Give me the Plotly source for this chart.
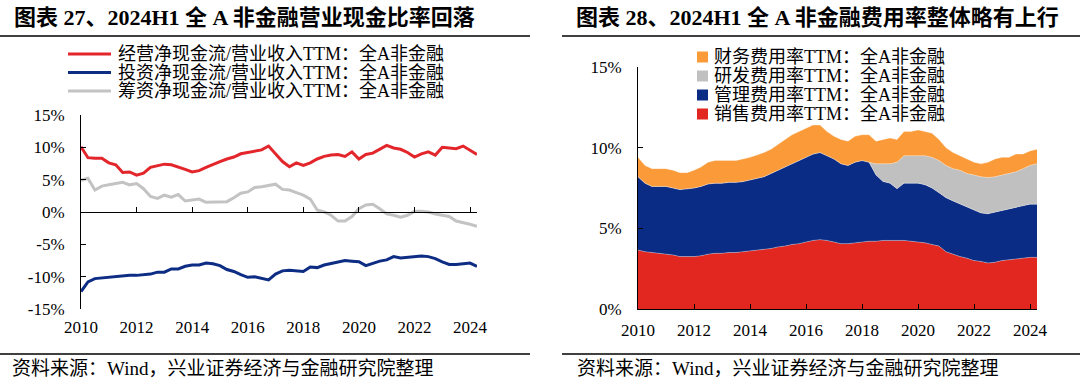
import plotly.graph_objects as go

W, H = 1080, 387

def px(x):
    return x / W

def py(y):
    return 1 - y / H

# ---------------- data ----------------
quarters = [f"{y}Q{q}" for y in range(2010, 2025) for q in range(1, 5)][:58]
tick_quarters = ["2010Q1", "2012Q1", "2014Q1", "2016Q1", "2018Q1", "2020Q1", "2022Q1", "2024Q1"]
tick_years = ["2010", "2012", "2014", "2016", "2018", "2020", "2022", "2024"]

# left chart (%): cash-flow / revenue TTM
op_cf = [10.1, 8.4, 8.3, 8.3,
         7.6, 7.3, 6.1, 6.2,
         5.7, 6.0, 6.9, 7.2,
         7.4, 7.3, 7.0, 6.6,
         6.2, 6.4, 6.9, 7.4,
         7.8, 8.2, 8.5, 9.0,
         9.2, 9.3, 9.6, 10.2,
         9.0, 7.8, 7.0, 7.6,
         7.2, 7.6, 8.2, 8.6,
         8.8, 8.9, 8.6, 9.3,
         8.2, 8.9, 9.1, 9.7,
         10.3, 9.9, 9.7, 9.2,
         8.5, 9.0, 9.3, 8.8,
         10.0, 9.9, 9.8, 10.2,
         9.6, 8.9]
inv_cf = [-12.3, -10.8, -10.3, -10.2,
          -10.0, -9.9, -9.9, -9.8,
          -9.8, -9.7, -9.6, -9.3,
          -9.3, -8.8, -8.8, -8.4,
          -8.2, -8.2, -7.9, -8.0,
          -8.3, -8.9, -9.2, -9.7,
          -10.1, -10.0, -10.2, -10.5,
          -9.6, -9.1, -9.0, -9.1,
          -9.2, -8.5, -8.6, -8.2,
          -8.0, -7.8, -7.5, -7.6,
          -7.7, -8.3, -7.9, -7.6,
          -7.4, -6.9, -7.1, -7.0,
          -6.9, -6.8, -6.9, -7.2,
          -7.7, -8.1, -8.1, -8.0,
          -7.9, -8.4]
fin_cf = [4.9, 5.2, 3.4, 4.0,
          4.2, 4.4, 4.6, 4.2,
          4.4, 3.6, 2.4, 2.1,
          2.6, 2.3, 2.7, 1.7,
          1.9, 2.0, 1.5, 1.5,
          1.5, 1.6, 2.2, 2.9,
          3.1, 3.8, 3.9, 4.1,
          4.3, 3.5, 3.4, 3.0,
          2.6, 2.0, 0.3, 0.0,
          -0.5, -1.4, -1.4, -0.7,
          0.5, 1.1, 1.2, 0.5,
          -0.3, -0.5, -0.8, -0.5,
          0.1, 0.1, 0.0, -0.3,
          -0.5, -0.7, -1.4, -1.6,
          -1.9, -2.2]
left_names = ["经营净现金流/营业收入TTM：全A非金融",
              "投资净现金流/营业收入TTM：全A非金融",
              "筹资净现金流/营业收入TTM：全A非金融"]
left_colors = ["#E3262B", "#0D2C84", "#C3C3C3"]
left_ticks = [-15, -10, -5, 0, 5, 10, 15]
left_ticktext = ["-15%", "-10%", "-5%", "0%", "5%", "10%", "15%"]

# right chart (%): expense ratios TTM (stacked, bottom to top)
sales = [3.65, 3.55, 3.5, 3.45,
         3.4, 3.35, 3.25, 3.25,
         3.25, 3.3, 3.4, 3.45,
         3.45, 3.5, 3.5, 3.55,
         3.6, 3.65, 3.7, 3.75,
         3.85, 3.9, 4.0, 4.05,
         4.15, 4.25, 4.3, 4.25,
         4.15, 4.05, 4.05, 4.1,
         4.15, 4.2, 4.2, 4.25,
         4.25, 4.25, 4.25, 4.2,
         4.15, 4.1, 4.0, 3.9,
         3.55, 3.4, 3.25, 3.15,
         3.0, 2.95, 2.85, 2.9,
         3.0, 3.05, 3.1, 3.15,
         3.2, 3.2]
admin = [4.55, 4.25, 4.1, 4.15,
         4.2, 4.15, 4.15, 4.2,
         4.25, 4.3, 4.35, 4.35,
         4.35, 4.35, 4.35, 4.35,
         4.4, 4.45, 4.5, 4.65,
         4.75, 4.9, 5.0, 5.15,
         5.25, 5.35, 5.4, 5.25,
         5.15, 4.95, 4.85, 5.0,
         5.05, 4.9, 4.1, 3.65,
         3.55, 3.2, 3.55, 3.6,
         3.65, 3.6, 3.5, 3.3,
         3.35, 3.3, 3.25, 3.15,
         3.1, 3.0, 3.05, 3.1,
         3.1, 3.15, 3.2, 3.25,
         3.3, 3.3]
rnd = [None, None, None, None,
       None, None, None, None,
       None, None, None, None,
       None, None, None, None,
       None, None, None, None,
       None, None, None, None,
       None, None, None, None,
       None, None, None, None,
       None, None, 0.7, 1.1,
       1.2, 1.65, 1.7, 1.7,
       1.7, 1.8, 1.9, 2.0,
       2.0, 2.0, 2.1, 2.1,
       2.2, 2.25, 2.25, 2.2,
       2.2, 2.2, 2.2, 2.3,
       2.4, 2.5]
finance = [1.2, 1.1, 1.1, 1.1,
           1.1, 1.1, 1.05, 1.0,
           1.1, 1.2, 1.35, 1.4,
           1.4, 1.35, 1.35, 1.4,
           1.4, 1.45, 1.5, 1.5,
           1.6, 1.7, 1.8, 1.8,
           1.8, 1.8, 1.7, 1.5,
           1.4, 1.5, 1.5, 1.6,
           1.6, 1.7, 1.4, 1.5,
           1.6, 1.4, 1.5, 1.5,
           1.6, 1.5, 1.5, 1.3,
           1.1, 1.0, 0.9, 0.9,
           0.8, 0.8, 0.95, 1.1,
           1.1, 1.0, 1.1, 0.9,
           0.9, 0.9]
right_names = ["销售费用率TTM：全A非金融", "管理费用率TTM：全A非金融",
               "研发费用率TTM：全A非金融", "财务费用率TTM：全A非金融"]
right_colors = ["#E1271F", "#0B2C85", "#C0C0C0", "#FA9A38"]
right_ticks = [0, 5, 10, 15]
right_ticktext = ["0%", "5%", "10%", "15%"]

titles = ["图表 27、2024H1 全 A 非金融营业现金比率回落",
          "图表 28、2024H1 全 A 非金融费用率整体略有上行"]
source = "资料来源：Wind，兴业证券经济与金融研究院整理"

FONT = "Liberation Serif, Noto Sans CJK SC, serif"

# ---------------- figure ----------------
fig = go.Figure()

for vals, name, col in zip([op_cf, inv_cf, fin_cf], left_names, left_colors):
    fig.add_trace(go.Scatter(x=quarters, y=vals, name=name, mode="lines",
                             line=dict(color=col, width=3),
                             xaxis="x", yaxis="y"))
# helper trace so the zero-line tick axis exists
fig.add_trace(go.Scatter(x=[0, 57], y=[None, None], xaxis="x3", yaxis="y",
                         hoverinfo="skip", mode="lines"))

for vals, name, col in zip([sales, admin, rnd, finance], right_names, right_colors):
    fig.add_trace(go.Scatter(x=quarters, y=vals, name=name, mode="lines",
                             stackgroup="one", fillcolor=col,
                             line=dict(width=0.6, color="rgba(255,255,255,0.5)"),
                             xaxis="x2", yaxis="y2"))

L_x0, L_x1, L_y0, L_y1 = 81, 477, 115, 309
R_x0, R_x1, R_y0, R_y1 = 638, 1037, 67, 309
zero_pos = py(L_y0 + (L_y1 - L_y0) / 2)

axis_font = dict(family=FONT, size=17, color="black")

fig.update_layout(
    width=W, height=H, margin=dict(l=0, r=0, t=0, b=0, autoexpand=False),
    paper_bgcolor="white", plot_bgcolor="white",
    font=dict(family=FONT, color="black"),
    showlegend=False,
    xaxis=dict(domain=[px(L_x0), px(L_x1)], anchor="y", type="category",
               categoryorder="array", categoryarray=quarters, range=[0, 57],
               tickmode="array", tickvals=tick_quarters, ticktext=tick_years,
               showline=False, ticks="", showgrid=False, zeroline=False,
               tickfont=axis_font, ticklabelstandoff=6),
    xaxis3=dict(overlaying="x", anchor="free", position=zero_pos, type="linear",
                range=[0, 57], tickmode="array", tickvals=[0, 8, 16, 24, 32, 40, 48, 56],
                ticks="inside", ticklen=5, tickcolor="black", showline=True,
                linecolor="black", linewidth=1, showticklabels=False,
                showgrid=False, zeroline=False, side="bottom"),
    yaxis=dict(domain=[py(L_y1), py(L_y0)], anchor="x", range=[-15, 15],
               tickmode="array", tickvals=left_ticks, ticktext=left_ticktext,
               ticks="inside", ticklen=5, tickcolor="black", showline=True,
               linecolor="black", linewidth=1, showgrid=False, zeroline=False,
               tickfont=axis_font, ticklabelstandoff=12),
    xaxis2=dict(domain=[px(R_x0), px(R_x1)], anchor="y2", type="category",
                categoryorder="array", categoryarray=quarters, range=[0, 57],
                tickmode="array", tickvals=tick_quarters, ticktext=tick_years,
                ticks="inside", ticklen=5, tickcolor="black", showline=True,
                linecolor="black", linewidth=1, showgrid=False, zeroline=False,
                tickfont=axis_font, ticklabelstandoff=6),
    yaxis2=dict(domain=[py(R_y1), py(R_y0)], anchor="x2", range=[0, 15],
                tickmode="array", tickvals=right_ticks, ticktext=right_ticktext,
                ticks="inside", ticklen=5, tickcolor="black", showline=True,
                linecolor="black", linewidth=1, showgrid=False, zeroline=False,
                tickfont=axis_font, ticklabelstandoff=12),
)

shapes = []
annotations = []
# header / footer rules
for x0, x1 in [(0, 530), (562, 1080)]:
    for yy in (36, 354):
        shapes.append(dict(type="line", xref="paper", yref="paper",
                           x0=px(x0), x1=px(x1), y0=py(yy), y1=py(yy),
                           line=dict(color="black", width=1.5)))

# legends (drawn as real text with swatches, to keep the compact row spacing)
leg_font = dict(family=FONT, size=18, color="black")
for i, (name, col) in enumerate(zip(left_names, left_colors)):
    yy = 54 + 18.5 * i
    shapes.append(dict(type="line", xref="paper", yref="paper",
                       x0=px(68), x1=px(111), y0=py(yy), y1=py(yy),
                       line=dict(color=col, width=3)))
    annotations.append(dict(text=name, xref="paper", yref="paper", x=px(116), y=py(yy),
                            xanchor="left", yanchor="middle", showarrow=False, font=leg_font))
for i, (name, col) in enumerate(zip(right_names[::-1], right_colors[::-1])):
    yy = 57 + 19 * i
    shapes.append(dict(type="rect", xref="paper", yref="paper",
                       x0=px(697), x1=px(708), y0=py(yy - 5.5), y1=py(yy + 5.5),
                       line=dict(width=0), fillcolor=col))
    annotations.append(dict(text=name, xref="paper", yref="paper", x=px(712), y=py(yy),
                            xanchor="left", yanchor="middle", showarrow=False, font=leg_font))

for t, x in zip(titles, [12, 574]):
    annotations.append(dict(text=f"<b>{t}</b>", xref="paper", yref="paper",
                            x=px(x), y=py(17), xanchor="left", yanchor="middle",
                            showarrow=False, font=dict(family=FONT, size=22, color="black")))
for x in [10, 575]:
    annotations.append(dict(text=source, xref="paper", yref="paper",
                            x=px(x), y=py(368), xanchor="left", yanchor="middle",
                            showarrow=False, font=dict(family=FONT, size=19, color="black")))
fig.update_layout(shapes=shapes, annotations=annotations)

fig.write_html("out.html", config={"displayModeBar": False},
               post_script="document.body.style.margin='0';document.body.style.overflow='hidden';")
